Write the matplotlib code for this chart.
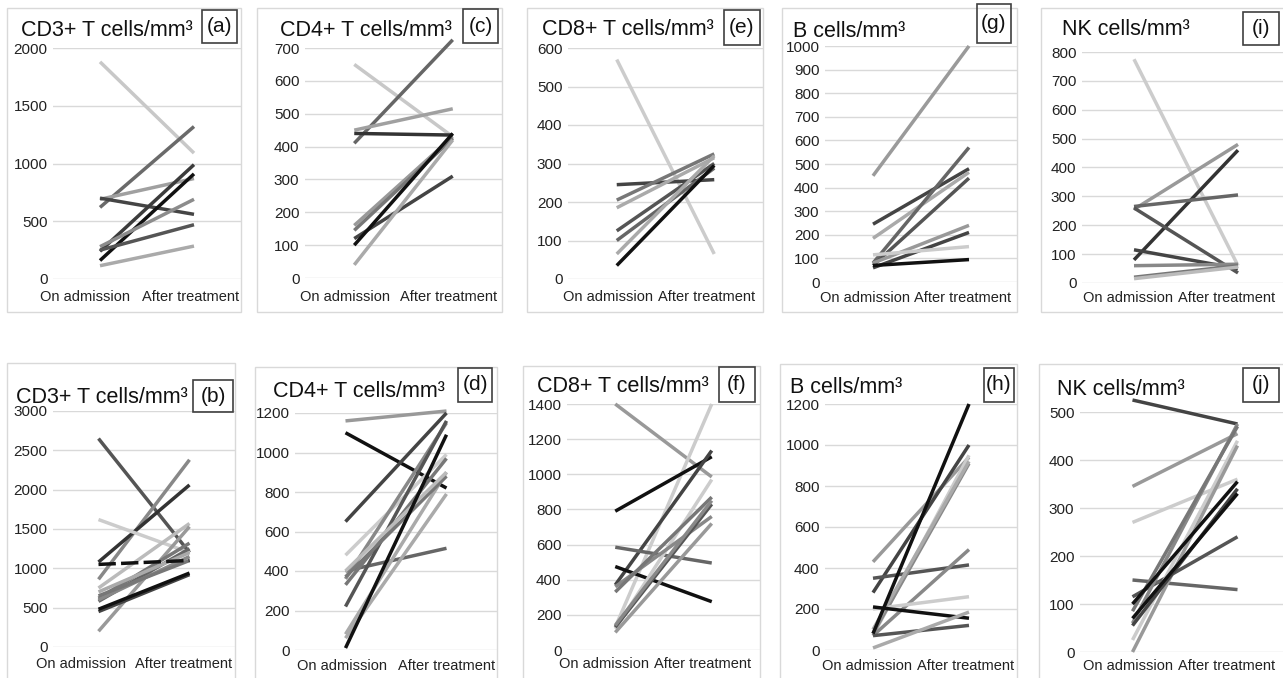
import matplotlib
matplotlib.use("Agg")
import matplotlib.pyplot as plt
from matplotlib.patches import Rectangle

W, H = 1283, 678
CATS = ["On admission", "After treatment"]

# (a) CD3+ top
a_adm = [1880, 620, 690, 700, 160, 240, 280, 250, 115]
a_aft = [1090, 1320, 870, 560, 910, 990, 690, 470, 285]
a_col = ["#c8c8c8", "#6a6a6a", "#a0a0a0", "#454545", "#111111", "#3c3c3c", "#8c8c8c", "#555555", "#aaaaaa"]
# (c) CD4+ top
c_adm = [650, 410, 450, 440, 160, 145, 120, 100, 40]
c_aft = [430, 725, 515, 435, 430, 425, 310, 440, 420]
c_col = ["#c8c8c8", "#666666", "#a0a0a0", "#333333", "#999999", "#777777", "#444444", "#111111", "#aaaaaa"]
# (e) CD8+ top
e_adm = [570, 245, 205, 185, 125, 100, 65, 35]
e_aft = [65, 258, 325, 315, 300, 288, 320, 295]
e_col = ["#cccccc", "#444444", "#777777", "#aaaaaa", "#555555", "#666666", "#aaaaaa", "#111111"]
# (g) B top
g_adm = [450, 245, 185, 80, 70, 80, 60, 115, 70]
g_aft = [1000, 480, 465, 570, 440, 240, 210, 150, 95]
g_col = ["#9a9a9a", "#444444", "#aaaaaa", "#666666", "#555555", "#999999", "#444444", "#cccccc", "#111111"]
# (i) NK top
i_adm = [775, 255, 80, 265, 260, 115, 60, 20, 15]
i_aft = [60, 480, 460, 305, 35, 50, 65, 60, 55]
i_col = ["#cccccc", "#999999", "#333333", "#666666", "#555555", "#444444", "#888888", "#777777", "#bbbbbb"]

# (b) CD3+ bottom
b_adm = [2650, 860, 1080, 1620, 750, 200, 620, 580, 600, 700, 650, 450, 480, 1050]
b_aft = [1200, 2380, 2060, 1200, 1570, 1530, 1320, 1250, 1150, 1200, 1100, 920, 940, 1100]
b_col = ["#555555", "#888888", "#333333", "#cccccc", "#bbbbbb", "#999999", "#777777", "#666666",
         "#888888", "#aaaaaa", "#777777", "#444444", "#111111", "#111111"]
b_dash = [False] * 13 + [True]
# (d) CD4+ bottom
d_adm = [1160, 1100, 650, 400, 480, 360, 330, 220, 80, 60, 370, 400, 10]
d_aft = [1210, 820, 1200, 515, 990, 1150, 970, 1160, 900, 790, 880, 900, 1090]
d_col = ["#999999", "#111111", "#444444", "#666666", "#cccccc", "#888888", "#777777", "#555555",
         "#aaaaaa", "#aaaaaa", "#777777", "#bbbbbb", "#111111"]
# (f) CD8+ bottom
f_adm = [1400, 130, 790, 370, 585, 475, 120, 360, 330, 100, 130, 140]
f_aft = [985, 1400, 1100, 1135, 495, 275, 970, 760, 870, 720, 830, 850]
f_col = ["#999999", "#cccccc", "#111111", "#444444", "#666666", "#111111", "#cccccc", "#888888",
         "#777777", "#999999", "#555555", "#888888"]
# (h) B bottom
h_adm = [430, 280, 350, 70, 80, 70, 200, 100, 210, 70, 10, 80]
h_aft = [940, 1000, 415, 950, 910, 490, 260, 920, 155, 120, 185, 1200]
h_col = ["#999999", "#444444", "#555555", "#cccccc", "#888888", "#888888", "#cccccc", "#aaaaaa",
         "#111111", "#555555", "#aaaaaa", "#111111"]
# (j) NK bottom
j_adm = [525, 345, 270, 115, 150, 60, 85, 25, 0, 55, 100, 70]
j_aft = [475, 455, 360, 240, 130, 475, 470, 440, 430, 340, 355, 330]
j_col = ["#444444", "#999999", "#cccccc", "#555555", "#666666", "#888888", "#777777", "#cccccc",
         "#999999", "#444444", "#111111", "#111111"]

plt.rcParams.update({"font.family": ["Liberation Sans", "DejaVu Sans"]})
fig = plt.figure(figsize=(W / 100, H / 100), dpi=100)


def rect(x0, y0, x1, y1):
    return [x0 / W, 1 - y1 / H, (x1 - x0) / W, (y1 - y0) / H]


def panel(box, axr, cat_xy, title, tpos, lab, lbox, ymax, step, adm, aft, col, dash=None):
    fr = rect(*box)
    fig.add_artist(Rectangle((fr[0], fr[1]), fr[2], fr[3], transform=fig.transFigure,
                             fill=False, edgecolor="#d9d9d9", linewidth=1))
    ax = fig.add_axes(rect(*axr))
    ax.set_xlim(-0.5, 1.5)
    ax.set_ylim(0, ymax)
    ax.set_yticks(range(0, ymax + 1, step))
    ax.set_xticks([])
    ax.tick_params(length=0, labelsize=11, colors="#222222", pad=4)
    for s in ax.spines.values():
        s.set_visible(False)
    ax.grid(axis="y", color="#d9d9d9", linewidth=1)
    ax.set_axisbelow(True)
    ax.patch.set_alpha(0)
    for k in range(len(adm)):
        ls = (0, (5, 1.5)) if dash and dash[k] else "-"
        ax.plot([0, 1], [adm[k], aft[k]], color=col[k], linewidth=2.5, linestyle=ls,
                solid_capstyle="butt", clip_on=False)
    # category labels, squeezed together like the original
    x_end, x_start, y_base = cat_xy
    fig.text(x_end / W, 1 - y_base / H, CATS[0], ha="right", va="baseline", fontsize=10.5, color="#222222")
    fig.text(x_start / W, 1 - y_base / H, CATS[1], ha="left", va="baseline", fontsize=10.5, color="#222222")
    fig.text(tpos[0] / W, 1 - tpos[1] / H, title, ha="left", va="baseline", fontsize=15.5, color="#111111")
    lr = rect(*lbox)
    fig.add_artist(Rectangle((lr[0], lr[1]), lr[2], lr[3], transform=fig.transFigure,
                             fill=False, edgecolor="#404040", linewidth=1.2))
    fig.text(lr[0] + lr[2] / 2, lr[1] + lr[3] / 2, lab, ha="center", va="center", fontsize=15, color="#111111")


T3 = "CD3+ T cells/mm³"
T4 = "CD4+ T cells/mm³"
T8 = "CD8+ T cells/mm³"
TB = "B cells/mm³"
TN = "NK cells/mm³"

# top row
panel((7, 8, 241, 312), (53, 48, 241, 279), (130, 142, 301), T3, (21, 36), "(a)", (202, 10, 237, 43), 2000, 500, a_adm, a_aft, a_col)
panel((257, 8, 502, 312), (305, 48, 502, 278), (390, 400, 301), T4, (280, 36), "(c)", (463, 9, 498, 43), 700, 100, c_adm, c_aft, c_col)
panel((527, 8, 763, 312), (568, 48, 763, 279), (653, 658, 301), T8, (542, 35), "(e)", (724, 10, 760, 45), 600, 100, e_adm, e_aft, e_col)
panel((782, 8, 1017, 312), (825, 46, 1017, 282), (910, 914, 302), TB, (793, 37), "(g)", (977, 4, 1011, 43), 1000, 100, g_adm, g_aft, g_col)
panel((1041, 8, 1290, 312), (1082, 52, 1290, 283), (1173, 1178, 302), TN, (1062, 35), "(i)", (1243, 12, 1279, 45), 800, 100, i_adm, i_aft, i_col)

# bottom row
panel((7, 363, 235, 690), (53, 411, 235, 647), (126, 135, 668), T3, (16, 403), "(b)", (193, 380, 233, 412), 3000, 500, b_adm, b_aft, b_col, b_dash)
panel((255, 367, 497, 690), (295, 413, 497, 650), (387, 398, 670), T4, (273, 397), "(d)", (458, 368, 492, 402), 1200, 200, d_adm, d_aft, d_col)
panel((523, 366, 760, 690), (567, 404, 760, 650), (649, 654, 668), T8, (537, 392), "(f)", (719, 367, 755, 402), 1400, 200, f_adm, f_aft, f_col)
panel((780, 364, 1017, 690), (825, 404, 1017, 650), (912, 917, 670), TB, (790, 393), "(h)", (984, 368, 1014, 402), 1200, 200, h_adm, h_aft, h_col)
panel((1039, 364, 1290, 690), (1080, 412, 1290, 652), (1173, 1178, 670), TN, (1057, 395), "(j)", (1243, 368, 1279, 402), 500, 100, j_adm, j_aft, j_col)

fig.savefig("out.png", dpi=100)
